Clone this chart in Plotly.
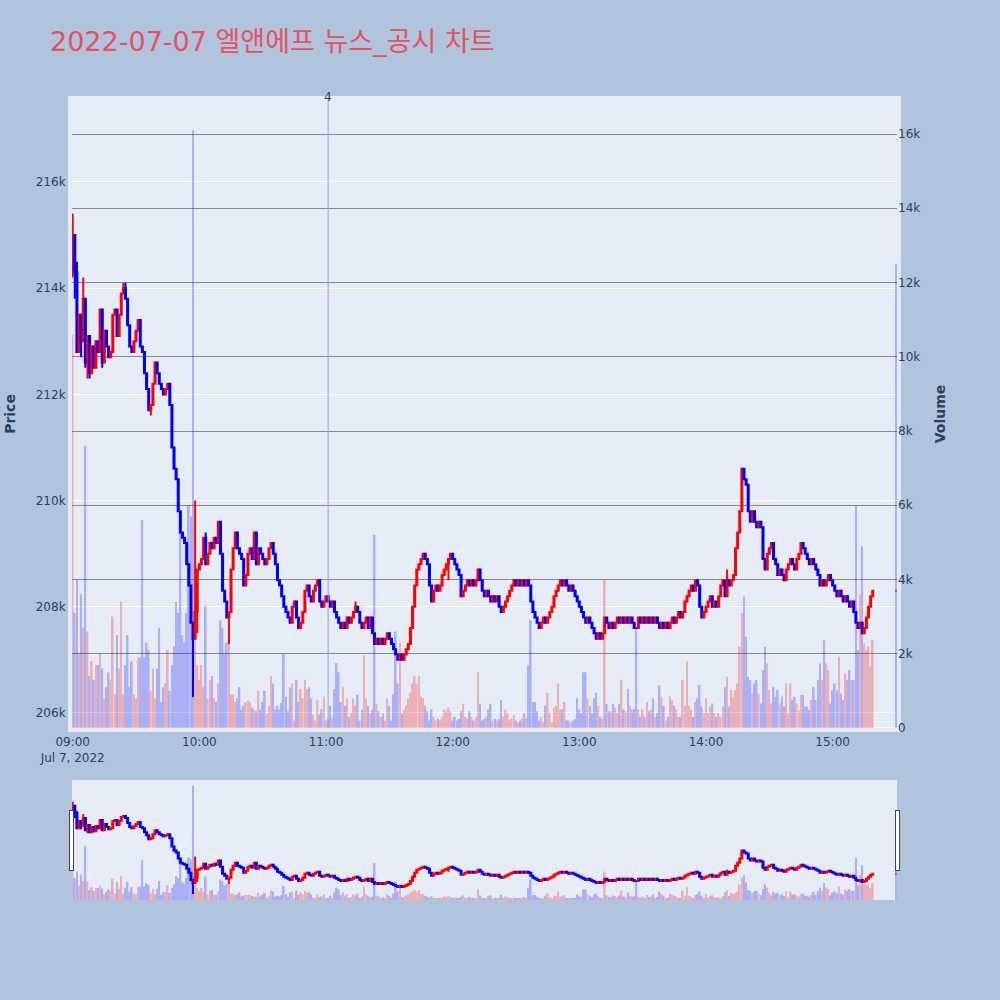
import pandas as pd
import plotly.graph_objects as go
from plotly.subplots import make_subplots

# ---- data (1-minute candles, 09:00 - 15:19, plus 15:30 closing auction) ----
session_start = "2022-07-07 09:00"
n_minutes = 380
closing_time = "2022-07-07 15:30"

first_open = 214300
closes = [
    # 09:00
    215000, 214300, 212800, 213500, 213000, 213800, 212600, 213100, 212400, 212900,
    212500, 213000, 212800, 213600, 212600, 213200, 212900, 212700, 212800, 213500,
    213600, 213100, 213500, 213900, 214000, 213800, 213300, 212900, 212800, 213000,
    213200, 213400, 212900, 212800, 212400, 212100, 211700, 211800, 212200, 212600,
    212400, 212200, 212100, 212000, 212100, 212200, 211800, 211000, 210600, 210400,
    209800, 209400, 209300, 209200, 208800, 208400, 207700, 207400, 207900, 208700,
    # 10:00
    208800, 208900, 209300, 208800, 209000, 209200, 209100, 209300, 209200, 209600,
    209000, 208300, 208100, 207800, 207900, 208700, 209100, 209400, 209100, 209000,
    208900, 208400, 208600, 209000, 209100, 208900, 209400, 208800, 209100, 209000,
    208900, 208800, 208900, 209100, 209200, 209000, 208800, 208500, 208400, 208200,
    208000, 207900, 207800, 207700, 208000, 208100, 207800, 207600, 207700, 207900,
    208300, 208400, 208200, 208100, 208300, 208400, 208500, 208100, 208000, 208100,
    # 11:00
    208200, 208100, 208000, 208100, 207900, 207800, 207700, 207600, 207700, 207600,
    207800, 207700, 207800, 207900, 208000, 207900, 207700, 207600, 207700, 207800,
    207600, 207800, 207500, 207300, 207400, 207300, 207400, 207300, 207400, 207500,
    207400, 207300, 207200, 207100, 207000, 207100, 207000, 207100, 207200, 207300,
    207600, 208000, 208400, 208700, 208800, 208900, 209000, 208900, 208800, 208400,
    208100, 208300, 208400, 208300, 208400, 208600, 208700, 208800, 208900, 209000,
    # 12:00
    208900, 208800, 208700, 208600, 208200, 208300, 208400, 208500, 208400, 208500,
    208400, 208500, 208700, 208500, 208300, 208200, 208300, 208200, 208100, 208200,
    208100, 208200, 208000, 207900, 208000, 208100, 208200, 208300, 208400, 208500,
    208400, 208500, 208400, 208500, 208400, 208500, 208400, 208100, 207900, 207800,
    207700, 207600, 207700, 207800, 207700, 207800, 207900, 208000, 208200, 208300,
    208400, 208500, 208400, 208500, 208400, 208300, 208400, 208300, 208200, 208100,
    # 13:00
    208000, 207900, 207800, 207700, 207800, 207700, 207600, 207500, 207400, 207500,
    207400, 207500, 207800, 207700, 207600, 207700, 207600, 207700, 207800, 207700,
    207800, 207700, 207800, 207700, 207800, 207700, 207600, 207600, 207800, 207700,
    207800, 207700, 207800, 207700, 207800, 207700, 207800, 207700, 207600, 207700,
    207600, 207700, 207600, 207700, 207800, 207700, 207800, 207900, 207800, 207900,
    208100, 208200, 208300, 208400, 208300, 208500, 208400, 208000, 207800, 207900,
    # 14:00
    208000, 208100, 208200, 208000, 208100, 208000, 208200, 208400, 208500, 208200,
    208500, 208400, 208500, 208600, 209100, 209400, 209800, 210600, 210400, 210300,
    209800, 209600, 209800, 209600, 209500, 209600, 209500, 208900, 208700, 209000,
    209100, 209200, 208900, 208800, 208600, 208700, 208600, 208500, 208700, 208800,
    208900, 208800, 208700, 208900, 209000, 209200, 209100, 209000, 208900, 208800,
    208900, 208800, 208700, 208600, 208400, 208500, 208400, 208500, 208600, 208500,
    # 15:00
    208400, 208300, 208200, 208300, 208200, 208100, 208200, 208100, 208000, 208100,
    207900, 207700, 207600, 207700, 207500, 207600, 207800, 208000, 208200, 208300,
]
closing_price = 208300

high_wicks = {0: 215400, 1: 215000, 2: 214500, 5: 214200, 24: 214100, 25: 214100,
              46: 212200, 58: 210000, 63: 209400, 69: 209600, 134: 208100,
              310: 208700, 317: 210600, 318: 210600}
low_wicks = {0: 214200, 1: 213800, 4: 212700, 6: 212500, 7: 212300, 8: 212300,
             14: 212500, 37: 211600, 57: 206300, 58: 207400, 59: 207500,
             74: 207300, 178: 208500}

volumes = [
    10600, 3100, 4000, 2000, 3600, 2700, 7600, 2600, 1400, 1800,
    1300, 1700, 1700, 2000, 1600, 800, 1100, 1500, 1300, 3000,
    900, 2500, 1600, 3400, 900, 1700, 2500, 1100, 1800, 900,
    800, 1900, 1900, 5600, 1900, 2300, 2100, 1000, 1600, 800,
    1600, 2700, 700, 1100, 1200, 2100, 1000, 1700, 2200, 3400,
    3100, 5600, 2500, 2300, 3100, 6000, 5700, 16100, 3300, 1700,
    1300, 1700, 1100, 3300, 800, 1300, 1400, 800, 700, 1200,
    2900, 2700, 2000, 2300, 2400, 900, 900, 700, 800, 1100,
    500, 600, 700, 750, 700, 550, 500, 450, 1000, 500,
    700, 1000, 400, 600, 1400, 1200, 500, 600, 500, 670,
    2000, 840, 450, 1100, 1200, 200, 1300, 700, 1050, 800,
    1300, 1050, 1100, 800, 350, 200, 750, 350, 500, 850,
    200, 250, 600, 300, 1050, 1750, 1500, 700, 1100, 600,
    800, 300, 400, 800, 600, 900, 200, 500, 1950, 800,
    600, 400, 500, 5200, 650, 450, 300, 400, 200, 800,
    600, 200, 900, 2600, 1200, 2300, 400, 500, 600, 800,
    950, 1200, 1400, 1200, 1400, 850, 800, 600, 450, 200,
    500, 300, 200, 250, 200, 300, 500, 450, 550, 450,
    200, 300, 200, 250, 450, 650, 300, 250, 450, 300,
    200, 300, 1500, 650, 200, 250, 300, 500, 650, 200,
    250, 200, 250, 750, 300, 500, 400, 200, 250, 350,
    200, 150, 200, 250, 400, 250, 1700, 2900, 700, 700,
    450, 200, 300, 150, 600, 950, 400, 150, 550, 600,
    1200, 500, 500, 700, 200, 200, 150, 200, 250, 800,
    500, 400, 1500, 1500, 800, 600, 400, 800, 950, 600,
    300, 250, 4000, 650, 450, 450, 650, 550, 400, 650,
    1300, 500, 450, 1050, 600, 500, 500, 2700, 500, 300,
    500, 300, 700, 450, 500, 800, 300, 400, 1150, 840,
    600, 200, 300, 850, 750, 600, 500, 300, 300, 1300,
    600, 1800, 600, 500, 300, 700, 800, 1160, 580, 400,
    800, 400, 580, 660, 400, 300, 400, 300, 580, 1100,
    1380, 580, 1020, 840, 1020, 1200, 2190, 3100, 3540, 2460,
    1380, 1290, 930, 1200, 1290, 930, 660, 1560, 2190, 1740,
    1020, 660, 1100, 840, 1020, 660, 840, 580, 1200, 400,
    1200, 750, 840, 660, 480, 890, 890, 580, 580, 480,
    750, 1100, 750, 1290, 1740, 1290, 2370, 1740, 1560, 660,
    1020, 1200, 1020, 1920, 930, 750, 1470, 1290, 1560, 1290,
    1290, 6000, 2100, 3600, 4890, 2280, 2100, 2200, 1650, 2370,
]
closing_volume = 12500

news_time = "2022-07-07 11:01"
news_label = "4"
title_text = "2022-07-07 엘앤에프 뉴스_공시 차트"

# ---- assemble candles ----
times = list(pd.date_range(session_start, periods=n_minutes, freq="min")) + [pd.Timestamp(closing_time)]
close_all = closes + [closing_price]
open_all = [first_open] + close_all[:-1]
high_all = [max(o, c) for o, c in zip(open_all, close_all)]
low_all = [min(o, c) for o, c in zip(open_all, close_all)]
for k, v in high_wicks.items():
    high_all[k] = v
for k, v in low_wicks.items():
    low_all[k] = v
vol_all = volumes + [closing_volume]
vol_colors = ["red" if c > o else "blue" for o, c in zip(open_all, close_all)]

fig = make_subplots(specs=[[{"secondary_y": True}]])
fig.add_trace(go.Candlestick(
    x=times, open=open_all, high=high_all, low=low_all, close=close_all,
    increasing=dict(line=dict(color="red", width=2), fillcolor="red"),
    decreasing=dict(line=dict(color="blue", width=2), fillcolor="blue"),
    name="Price", showlegend=False), secondary_y=False)
fig.add_trace(go.Bar(
    x=times, y=vol_all, marker=dict(color=vol_colors, line=dict(width=0)),
    opacity=0.25, name="Volume", showlegend=False), secondary_y=True)

fig.add_shape(type="line", x0=news_time, x1=news_time, y0=0, y1=1,
              xref="x", yref="paper", line=dict(color="rgb(145,155,245)", width=1))
fig.add_annotation(x=news_time, y=1, xref="x", yref="paper", text=news_label,
                   showarrow=False, yanchor="middle", yshift=3,
                   font=dict(size=12, color="#2a3f5f"))

xr = ["2022-07-07 08:59:40", "2022-07-07 15:30:29"]
fig.update_layout(
    width=1000, height=1000,
    title=dict(text=title_text, x=0.05, xanchor="left", y=0.958, yanchor="middle",
               font=dict(size=27, color="#E8505B")),
    font=dict(family="DejaVu Sans, Noto Sans CJK KR, sans-serif", color="#2a3f5f"),
    paper_bgcolor="#B0C4DE", plot_bgcolor="#E5ECF6",
    margin=dict(l=72, r=103, t=100, b=100),
    showlegend=False,
    bargap=0.2,
)
fig.update_xaxes(domain=[0, 1], range=xr, showgrid=False, showline=True, linewidth=4,
                 linecolor="#E5ECF6", mirror=True,
                 rangeslider=dict(visible=True, bgcolor="#E5ECF6", thickness=0.15, range=xr))
fig.update_yaxes(title=dict(text="<b>Price</b>", font=dict(size=14), standoff=18),
                 range=[205717, 217544], dtick=2000, gridcolor="white",
                 showline=True, linewidth=4, linecolor="#E5ECF6", mirror=True,
                 zeroline=False, automargin=False, secondary_y=False)
fig.update_yaxes(title=dict(text="<b>Volume</b>", font=dict(size=14)),
                 range=[0, 16916], dtick=2000, gridcolor="#888888", showgrid=True,
                 zeroline=True, zerolinecolor="white", zerolinewidth=2,
                 showline=False, automargin=False, secondary_y=True)

fig.write_html("out.html", config={"displayModeBar": False},
               post_script="document.body.style.margin='0px';document.body.style.overflow='hidden';")
